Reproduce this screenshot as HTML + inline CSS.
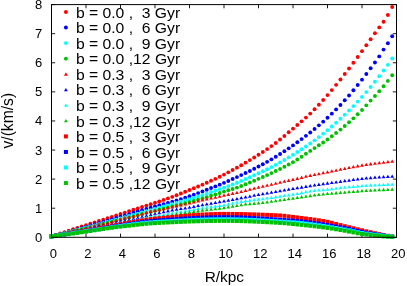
<!DOCTYPE html>
<html><head><meta charset="utf-8"><title>plot</title>
<style>html,body{margin:0;padding:0;background:#fff;overflow:hidden}svg{display:block;will-change:transform}text{font-family:"Liberation Sans",sans-serif;fill:#000}</style></head><body>
<svg width="407" height="286" viewBox="0 0 407 286">
<path d="M51.50 237.3V233.60000000000002M51.50 4.6V8.3M86.00 237.3V233.60000000000002M86.00 4.6V8.3M120.50 237.3V233.60000000000002M120.50 4.6V8.3M155.00 237.3V233.60000000000002M155.00 4.6V8.3M189.50 237.3V233.60000000000002M189.50 4.6V8.3M224.00 237.3V233.60000000000002M224.00 4.6V8.3M258.50 237.3V233.60000000000002M258.50 4.6V8.3M293.00 237.3V233.60000000000002M293.00 4.6V8.3M327.50 237.3V233.60000000000002M327.50 4.6V8.3M362.00 237.3V233.60000000000002M362.00 4.6V8.3M396.50 237.3V233.60000000000002M396.50 4.6V8.3M51.5 237.30H55.2M396.5 237.30H392.8M51.5 208.21H55.2M396.5 208.21H392.8M51.5 179.12H55.2M396.5 179.12H392.8M51.5 150.04H55.2M396.5 150.04H392.8M51.5 120.95H55.2M396.5 120.95H392.8M51.5 91.86H55.2M396.5 91.86H392.8M51.5 62.78H55.2M396.5 62.78H392.8M51.5 33.69H55.2M396.5 33.69H392.8M51.5 4.60H55.2M396.5 4.60H392.8" stroke="#000" stroke-width="0.9" fill="none"/>
<text x="53.35" y="257.6" font-size="13" text-anchor="middle">0</text>
<text x="87.85" y="257.6" font-size="13" text-anchor="middle">2</text>
<text x="122.35" y="257.6" font-size="13" text-anchor="middle">4</text>
<text x="156.85" y="257.6" font-size="13" text-anchor="middle">6</text>
<text x="191.35" y="257.6" font-size="13" text-anchor="middle">8</text>
<text x="225.85" y="257.6" font-size="13" text-anchor="middle">10</text>
<text x="260.35" y="257.6" font-size="13" text-anchor="middle">12</text>
<text x="294.85" y="257.6" font-size="13" text-anchor="middle">14</text>
<text x="329.35" y="257.6" font-size="13" text-anchor="middle">16</text>
<text x="363.85" y="257.6" font-size="13" text-anchor="middle">18</text>
<text x="398.35" y="257.6" font-size="13" text-anchor="middle">20</text>
<text x="42.2" y="241.80" font-size="13" text-anchor="end">0</text>
<text x="42.2" y="212.71" font-size="13" text-anchor="end">1</text>
<text x="42.2" y="183.62" font-size="13" text-anchor="end">2</text>
<text x="42.2" y="154.54" font-size="13" text-anchor="end">3</text>
<text x="42.2" y="125.45" font-size="13" text-anchor="end">4</text>
<text x="42.2" y="96.36" font-size="13" text-anchor="end">5</text>
<text x="42.2" y="67.28" font-size="13" text-anchor="end">6</text>
<text x="42.2" y="38.19" font-size="13" text-anchor="end">7</text>
<text x="42.2" y="9.10" font-size="13" text-anchor="end">8</text>
<text x="224.3" y="281.5" font-size="15.4" text-anchor="middle">R/kpc</text>
<text transform="translate(13.2,120.7) rotate(-90)" font-size="15.7" text-anchor="middle">v/(km/s)</text>
<text transform="translate(75.9,17.65) scale(1.03,1)" font-size="15.25" xml:space="preserve">b = 0.0 ,  3 Gyr</text>
<circle cx="65.90" cy="12.00" r="1.95" fill="#ff0000"/>
<text transform="translate(75.9,33.20) scale(1.03,1)" font-size="15.25" xml:space="preserve">b = 0.0 ,  6 Gyr</text>
<circle cx="65.90" cy="27.55" r="1.95" fill="#0000ff"/>
<text transform="translate(75.9,48.75) scale(1.03,1)" font-size="15.25" xml:space="preserve">b = 0.0 ,  9 Gyr</text>
<circle cx="65.90" cy="43.10" r="1.95" fill="#00ffff"/>
<text transform="translate(75.9,64.30) scale(1.03,1)" font-size="15.25" xml:space="preserve">b = 0.0 ,12 Gyr</text>
<circle cx="65.90" cy="58.65" r="1.95" fill="#00c000"/>
<text transform="translate(75.9,79.85) scale(1.03,1)" font-size="15.25" xml:space="preserve">b = 0.3 ,  3 Gyr</text>
<path d="M63.95 75.65L67.85 75.65L65.90 72.35Z" fill="#ff0000"/>
<text transform="translate(75.9,95.40) scale(1.03,1)" font-size="15.25" xml:space="preserve">b = 0.3 ,  6 Gyr</text>
<path d="M63.95 91.20L67.85 91.20L65.90 87.90Z" fill="#0000ff"/>
<text transform="translate(75.9,110.95) scale(1.03,1)" font-size="15.25" xml:space="preserve">b = 0.3 ,  9 Gyr</text>
<path d="M63.95 106.75L67.85 106.75L65.90 103.45Z" fill="#00ffff"/>
<text transform="translate(75.9,126.50) scale(1.03,1)" font-size="15.25" xml:space="preserve">b = 0.3 ,12 Gyr</text>
<path d="M63.95 122.30L67.85 122.30L65.90 119.00Z" fill="#00c000"/>
<text transform="translate(75.9,142.05) scale(1.03,1)" font-size="15.25" xml:space="preserve">b = 0.5 ,  3 Gyr</text>
<rect x="63.90" y="134.40" width="4" height="4" fill="#ff0000"/>
<text transform="translate(75.9,157.60) scale(1.03,1)" font-size="15.25" xml:space="preserve">b = 0.5 ,  6 Gyr</text>
<rect x="63.90" y="149.95" width="4" height="4" fill="#0000ff"/>
<text transform="translate(75.9,173.15) scale(1.03,1)" font-size="15.25" xml:space="preserve">b = 0.5 ,  9 Gyr</text>
<rect x="63.90" y="165.50" width="4" height="4" fill="#00ffff"/>
<text transform="translate(75.9,188.70) scale(1.03,1)" font-size="15.25" xml:space="preserve">b = 0.5 ,12 Gyr</text>
<rect x="63.90" y="181.05" width="4" height="4" fill="#00c000"/>
<circle cx="51.50" cy="236.43" r="1.95" fill="#ff0000"/><circle cx="55.81" cy="234.97" r="1.95" fill="#ff0000"/><circle cx="60.12" cy="233.53" r="1.95" fill="#ff0000"/><circle cx="64.44" cy="232.10" r="1.95" fill="#ff0000"/><circle cx="68.75" cy="230.68" r="1.95" fill="#ff0000"/><circle cx="73.06" cy="229.27" r="1.95" fill="#ff0000"/><circle cx="77.38" cy="227.86" r="1.95" fill="#ff0000"/><circle cx="81.69" cy="226.47" r="1.95" fill="#ff0000"/><circle cx="86.00" cy="225.08" r="1.95" fill="#ff0000"/><circle cx="90.31" cy="223.71" r="1.95" fill="#ff0000"/><circle cx="94.62" cy="222.35" r="1.95" fill="#ff0000"/><circle cx="98.94" cy="221.01" r="1.95" fill="#ff0000"/><circle cx="103.25" cy="219.66" r="1.95" fill="#ff0000"/><circle cx="107.56" cy="218.25" r="1.95" fill="#ff0000"/><circle cx="111.88" cy="216.83" r="1.95" fill="#ff0000"/><circle cx="116.19" cy="215.42" r="1.95" fill="#ff0000"/><circle cx="120.50" cy="214.01" r="1.95" fill="#ff0000"/><circle cx="124.81" cy="212.60" r="1.95" fill="#ff0000"/><circle cx="129.12" cy="211.19" r="1.95" fill="#ff0000"/><circle cx="133.44" cy="209.78" r="1.95" fill="#ff0000"/><circle cx="137.75" cy="208.38" r="1.95" fill="#ff0000"/><circle cx="142.06" cy="206.99" r="1.95" fill="#ff0000"/><circle cx="146.38" cy="205.60" r="1.95" fill="#ff0000"/><circle cx="150.69" cy="204.20" r="1.95" fill="#ff0000"/><circle cx="155.00" cy="202.77" r="1.95" fill="#ff0000"/><circle cx="159.31" cy="201.34" r="1.95" fill="#ff0000"/><circle cx="163.62" cy="199.89" r="1.95" fill="#ff0000"/><circle cx="167.94" cy="198.41" r="1.95" fill="#ff0000"/><circle cx="172.25" cy="196.87" r="1.95" fill="#ff0000"/><circle cx="176.56" cy="195.24" r="1.95" fill="#ff0000"/><circle cx="180.88" cy="193.54" r="1.95" fill="#ff0000"/><circle cx="185.19" cy="191.79" r="1.95" fill="#ff0000"/><circle cx="189.50" cy="190.03" r="1.95" fill="#ff0000"/><circle cx="193.81" cy="188.27" r="1.95" fill="#ff0000"/><circle cx="198.12" cy="186.48" r="1.95" fill="#ff0000"/><circle cx="202.44" cy="184.65" r="1.95" fill="#ff0000"/><circle cx="206.75" cy="182.76" r="1.95" fill="#ff0000"/><circle cx="211.06" cy="180.82" r="1.95" fill="#ff0000"/><circle cx="215.38" cy="178.83" r="1.95" fill="#ff0000"/><circle cx="219.69" cy="176.77" r="1.95" fill="#ff0000"/><circle cx="224.00" cy="174.62" r="1.95" fill="#ff0000"/><circle cx="228.31" cy="172.37" r="1.95" fill="#ff0000"/><circle cx="232.62" cy="170.04" r="1.95" fill="#ff0000"/><circle cx="236.94" cy="167.65" r="1.95" fill="#ff0000"/><circle cx="241.25" cy="165.19" r="1.95" fill="#ff0000"/><circle cx="245.56" cy="162.67" r="1.95" fill="#ff0000"/><circle cx="249.88" cy="160.09" r="1.95" fill="#ff0000"/><circle cx="254.19" cy="157.45" r="1.95" fill="#ff0000"/><circle cx="258.50" cy="154.75" r="1.95" fill="#ff0000"/><circle cx="262.81" cy="151.98" r="1.95" fill="#ff0000"/><circle cx="267.12" cy="149.10" r="1.95" fill="#ff0000"/><circle cx="271.44" cy="146.09" r="1.95" fill="#ff0000"/><circle cx="275.75" cy="142.94" r="1.95" fill="#ff0000"/><circle cx="280.06" cy="139.57" r="1.95" fill="#ff0000"/><circle cx="284.38" cy="136.00" r="1.95" fill="#ff0000"/><circle cx="288.69" cy="132.32" r="1.95" fill="#ff0000"/><circle cx="293.00" cy="128.63" r="1.95" fill="#ff0000"/><circle cx="297.31" cy="125.00" r="1.95" fill="#ff0000"/><circle cx="301.62" cy="121.36" r="1.95" fill="#ff0000"/><circle cx="305.94" cy="117.61" r="1.95" fill="#ff0000"/><circle cx="310.25" cy="113.62" r="1.95" fill="#ff0000"/><circle cx="314.56" cy="109.32" r="1.95" fill="#ff0000"/><circle cx="318.88" cy="104.76" r="1.95" fill="#ff0000"/><circle cx="323.19" cy="100.01" r="1.95" fill="#ff0000"/><circle cx="327.50" cy="95.12" r="1.95" fill="#ff0000"/><circle cx="331.81" cy="90.08" r="1.95" fill="#ff0000"/><circle cx="336.12" cy="84.84" r="1.95" fill="#ff0000"/><circle cx="340.44" cy="79.47" r="1.95" fill="#ff0000"/><circle cx="344.75" cy="74.00" r="1.95" fill="#ff0000"/><circle cx="349.06" cy="68.44" r="1.95" fill="#ff0000"/><circle cx="353.38" cy="62.74" r="1.95" fill="#ff0000"/><circle cx="357.69" cy="56.96" r="1.95" fill="#ff0000"/><circle cx="362.00" cy="51.14" r="1.95" fill="#ff0000"/><circle cx="366.31" cy="45.25" r="1.95" fill="#ff0000"/><circle cx="370.62" cy="39.30" r="1.95" fill="#ff0000"/><circle cx="374.94" cy="33.29" r="1.95" fill="#ff0000"/><circle cx="379.25" cy="27.38" r="1.95" fill="#ff0000"/><circle cx="383.56" cy="21.76" r="1.95" fill="#ff0000"/><circle cx="387.88" cy="14.96" r="1.95" fill="#ff0000"/><circle cx="392.19" cy="7.07" r="1.95" fill="#ff0000"/>
<circle cx="51.50" cy="236.43" r="1.95" fill="#0000ff"/><circle cx="55.81" cy="235.22" r="1.95" fill="#0000ff"/><circle cx="60.12" cy="234.00" r="1.95" fill="#0000ff"/><circle cx="64.44" cy="232.79" r="1.95" fill="#0000ff"/><circle cx="68.75" cy="231.58" r="1.95" fill="#0000ff"/><circle cx="73.06" cy="230.37" r="1.95" fill="#0000ff"/><circle cx="77.38" cy="229.16" r="1.95" fill="#0000ff"/><circle cx="81.69" cy="227.94" r="1.95" fill="#0000ff"/><circle cx="86.00" cy="226.73" r="1.95" fill="#0000ff"/><circle cx="90.31" cy="225.52" r="1.95" fill="#0000ff"/><circle cx="94.62" cy="224.31" r="1.95" fill="#0000ff"/><circle cx="98.94" cy="223.10" r="1.95" fill="#0000ff"/><circle cx="103.25" cy="221.88" r="1.95" fill="#0000ff"/><circle cx="107.56" cy="220.60" r="1.95" fill="#0000ff"/><circle cx="111.88" cy="219.30" r="1.95" fill="#0000ff"/><circle cx="116.19" cy="218.00" r="1.95" fill="#0000ff"/><circle cx="120.50" cy="216.70" r="1.95" fill="#0000ff"/><circle cx="124.81" cy="215.40" r="1.95" fill="#0000ff"/><circle cx="129.12" cy="214.10" r="1.95" fill="#0000ff"/><circle cx="133.44" cy="212.80" r="1.95" fill="#0000ff"/><circle cx="137.75" cy="211.52" r="1.95" fill="#0000ff"/><circle cx="142.06" cy="210.24" r="1.95" fill="#0000ff"/><circle cx="146.38" cy="208.97" r="1.95" fill="#0000ff"/><circle cx="150.69" cy="207.71" r="1.95" fill="#0000ff"/><circle cx="155.00" cy="206.47" r="1.95" fill="#0000ff"/><circle cx="159.31" cy="205.26" r="1.95" fill="#0000ff"/><circle cx="163.62" cy="204.08" r="1.95" fill="#0000ff"/><circle cx="167.94" cy="202.90" r="1.95" fill="#0000ff"/><circle cx="172.25" cy="201.67" r="1.95" fill="#0000ff"/><circle cx="176.56" cy="200.39" r="1.95" fill="#0000ff"/><circle cx="180.88" cy="199.08" r="1.95" fill="#0000ff"/><circle cx="185.19" cy="197.72" r="1.95" fill="#0000ff"/><circle cx="189.50" cy="196.29" r="1.95" fill="#0000ff"/><circle cx="193.81" cy="194.75" r="1.95" fill="#0000ff"/><circle cx="198.12" cy="193.12" r="1.95" fill="#0000ff"/><circle cx="202.44" cy="191.43" r="1.95" fill="#0000ff"/><circle cx="206.75" cy="189.74" r="1.95" fill="#0000ff"/><circle cx="211.06" cy="188.07" r="1.95" fill="#0000ff"/><circle cx="215.38" cy="186.38" r="1.95" fill="#0000ff"/><circle cx="219.69" cy="184.65" r="1.95" fill="#0000ff"/><circle cx="224.00" cy="182.85" r="1.95" fill="#0000ff"/><circle cx="228.31" cy="180.98" r="1.95" fill="#0000ff"/><circle cx="232.62" cy="179.06" r="1.95" fill="#0000ff"/><circle cx="236.94" cy="177.11" r="1.95" fill="#0000ff"/><circle cx="241.25" cy="175.10" r="1.95" fill="#0000ff"/><circle cx="245.56" cy="173.05" r="1.95" fill="#0000ff"/><circle cx="249.88" cy="170.94" r="1.95" fill="#0000ff"/><circle cx="254.19" cy="168.78" r="1.95" fill="#0000ff"/><circle cx="258.50" cy="166.56" r="1.95" fill="#0000ff"/><circle cx="262.81" cy="164.26" r="1.95" fill="#0000ff"/><circle cx="267.12" cy="161.85" r="1.95" fill="#0000ff"/><circle cx="271.44" cy="159.35" r="1.95" fill="#0000ff"/><circle cx="275.75" cy="156.76" r="1.95" fill="#0000ff"/><circle cx="280.06" cy="154.07" r="1.95" fill="#0000ff"/><circle cx="284.38" cy="151.27" r="1.95" fill="#0000ff"/><circle cx="288.69" cy="148.37" r="1.95" fill="#0000ff"/><circle cx="293.00" cy="145.38" r="1.95" fill="#0000ff"/><circle cx="297.31" cy="142.30" r="1.95" fill="#0000ff"/><circle cx="301.62" cy="139.12" r="1.95" fill="#0000ff"/><circle cx="305.94" cy="135.83" r="1.95" fill="#0000ff"/><circle cx="310.25" cy="132.44" r="1.95" fill="#0000ff"/><circle cx="314.56" cy="128.96" r="1.95" fill="#0000ff"/><circle cx="318.88" cy="125.37" r="1.95" fill="#0000ff"/><circle cx="323.19" cy="121.64" r="1.95" fill="#0000ff"/><circle cx="327.50" cy="117.75" r="1.95" fill="#0000ff"/><circle cx="331.81" cy="113.67" r="1.95" fill="#0000ff"/><circle cx="336.12" cy="109.39" r="1.95" fill="#0000ff"/><circle cx="340.44" cy="104.94" r="1.95" fill="#0000ff"/><circle cx="344.75" cy="100.30" r="1.95" fill="#0000ff"/><circle cx="349.06" cy="95.43" r="1.95" fill="#0000ff"/><circle cx="353.38" cy="90.32" r="1.95" fill="#0000ff"/><circle cx="357.69" cy="85.04" r="1.95" fill="#0000ff"/><circle cx="362.00" cy="79.65" r="1.95" fill="#0000ff"/><circle cx="366.31" cy="74.07" r="1.95" fill="#0000ff"/><circle cx="370.62" cy="68.30" r="1.95" fill="#0000ff"/><circle cx="374.94" cy="62.48" r="1.95" fill="#0000ff"/><circle cx="379.25" cy="56.38" r="1.95" fill="#0000ff"/><circle cx="383.56" cy="49.60" r="1.95" fill="#0000ff"/><circle cx="387.88" cy="43.29" r="1.95" fill="#0000ff"/><circle cx="392.19" cy="36.31" r="1.95" fill="#0000ff"/>
<circle cx="51.50" cy="236.43" r="1.95" fill="#00ffff"/><circle cx="55.81" cy="235.32" r="1.95" fill="#00ffff"/><circle cx="60.12" cy="234.21" r="1.95" fill="#00ffff"/><circle cx="64.44" cy="233.11" r="1.95" fill="#00ffff"/><circle cx="68.75" cy="232.00" r="1.95" fill="#00ffff"/><circle cx="73.06" cy="230.89" r="1.95" fill="#00ffff"/><circle cx="77.38" cy="229.78" r="1.95" fill="#00ffff"/><circle cx="81.69" cy="228.68" r="1.95" fill="#00ffff"/><circle cx="86.00" cy="227.57" r="1.95" fill="#00ffff"/><circle cx="90.31" cy="226.46" r="1.95" fill="#00ffff"/><circle cx="94.62" cy="225.35" r="1.95" fill="#00ffff"/><circle cx="98.94" cy="224.24" r="1.95" fill="#00ffff"/><circle cx="103.25" cy="223.13" r="1.95" fill="#00ffff"/><circle cx="107.56" cy="221.95" r="1.95" fill="#00ffff"/><circle cx="111.88" cy="220.77" r="1.95" fill="#00ffff"/><circle cx="116.19" cy="219.59" r="1.95" fill="#00ffff"/><circle cx="120.50" cy="218.41" r="1.95" fill="#00ffff"/><circle cx="124.81" cy="217.23" r="1.95" fill="#00ffff"/><circle cx="129.12" cy="216.05" r="1.95" fill="#00ffff"/><circle cx="133.44" cy="214.87" r="1.95" fill="#00ffff"/><circle cx="137.75" cy="213.69" r="1.95" fill="#00ffff"/><circle cx="142.06" cy="212.51" r="1.95" fill="#00ffff"/><circle cx="146.38" cy="211.32" r="1.95" fill="#00ffff"/><circle cx="150.69" cy="210.13" r="1.95" fill="#00ffff"/><circle cx="155.00" cy="208.94" r="1.95" fill="#00ffff"/><circle cx="159.31" cy="207.75" r="1.95" fill="#00ffff"/><circle cx="163.62" cy="206.55" r="1.95" fill="#00ffff"/><circle cx="167.94" cy="205.35" r="1.95" fill="#00ffff"/><circle cx="172.25" cy="204.14" r="1.95" fill="#00ffff"/><circle cx="176.56" cy="202.94" r="1.95" fill="#00ffff"/><circle cx="180.88" cy="201.74" r="1.95" fill="#00ffff"/><circle cx="185.19" cy="200.52" r="1.95" fill="#00ffff"/><circle cx="189.50" cy="199.25" r="1.95" fill="#00ffff"/><circle cx="193.81" cy="197.93" r="1.95" fill="#00ffff"/><circle cx="198.12" cy="196.56" r="1.95" fill="#00ffff"/><circle cx="202.44" cy="195.14" r="1.95" fill="#00ffff"/><circle cx="206.75" cy="193.67" r="1.95" fill="#00ffff"/><circle cx="211.06" cy="192.07" r="1.95" fill="#00ffff"/><circle cx="215.38" cy="190.47" r="1.95" fill="#00ffff"/><circle cx="219.69" cy="189.08" r="1.95" fill="#00ffff"/><circle cx="224.00" cy="187.68" r="1.95" fill="#00ffff"/><circle cx="228.31" cy="186.10" r="1.95" fill="#00ffff"/><circle cx="232.62" cy="184.44" r="1.95" fill="#00ffff"/><circle cx="236.94" cy="182.71" r="1.95" fill="#00ffff"/><circle cx="241.25" cy="180.92" r="1.95" fill="#00ffff"/><circle cx="245.56" cy="179.07" r="1.95" fill="#00ffff"/><circle cx="249.88" cy="177.18" r="1.95" fill="#00ffff"/><circle cx="254.19" cy="175.26" r="1.95" fill="#00ffff"/><circle cx="258.50" cy="173.31" r="1.95" fill="#00ffff"/><circle cx="262.81" cy="171.32" r="1.95" fill="#00ffff"/><circle cx="267.12" cy="169.26" r="1.95" fill="#00ffff"/><circle cx="271.44" cy="167.12" r="1.95" fill="#00ffff"/><circle cx="275.75" cy="164.87" r="1.95" fill="#00ffff"/><circle cx="280.06" cy="162.50" r="1.95" fill="#00ffff"/><circle cx="284.38" cy="159.99" r="1.95" fill="#00ffff"/><circle cx="288.69" cy="157.40" r="1.95" fill="#00ffff"/><circle cx="293.00" cy="154.75" r="1.95" fill="#00ffff"/><circle cx="297.31" cy="152.06" r="1.95" fill="#00ffff"/><circle cx="301.62" cy="149.32" r="1.95" fill="#00ffff"/><circle cx="305.94" cy="146.47" r="1.95" fill="#00ffff"/><circle cx="310.25" cy="143.49" r="1.95" fill="#00ffff"/><circle cx="314.56" cy="140.36" r="1.95" fill="#00ffff"/><circle cx="318.88" cy="137.08" r="1.95" fill="#00ffff"/><circle cx="323.19" cy="133.67" r="1.95" fill="#00ffff"/><circle cx="327.50" cy="130.14" r="1.95" fill="#00ffff"/><circle cx="331.81" cy="126.50" r="1.95" fill="#00ffff"/><circle cx="336.12" cy="122.71" r="1.95" fill="#00ffff"/><circle cx="340.44" cy="118.79" r="1.95" fill="#00ffff"/><circle cx="344.75" cy="114.73" r="1.95" fill="#00ffff"/><circle cx="349.06" cy="110.51" r="1.95" fill="#00ffff"/><circle cx="353.38" cy="106.12" r="1.95" fill="#00ffff"/><circle cx="357.69" cy="101.59" r="1.95" fill="#00ffff"/><circle cx="362.00" cy="96.92" r="1.95" fill="#00ffff"/><circle cx="366.31" cy="92.08" r="1.95" fill="#00ffff"/><circle cx="370.62" cy="87.00" r="1.95" fill="#00ffff"/><circle cx="374.94" cy="81.71" r="1.95" fill="#00ffff"/><circle cx="379.25" cy="76.21" r="1.95" fill="#00ffff"/><circle cx="383.56" cy="70.51" r="1.95" fill="#00ffff"/><circle cx="387.88" cy="64.84" r="1.95" fill="#00ffff"/><circle cx="392.19" cy="58.50" r="1.95" fill="#00ffff"/>
<circle cx="51.50" cy="236.43" r="1.95" fill="#00c000"/><circle cx="55.81" cy="235.39" r="1.95" fill="#00c000"/><circle cx="60.12" cy="234.35" r="1.95" fill="#00c000"/><circle cx="64.44" cy="233.32" r="1.95" fill="#00c000"/><circle cx="68.75" cy="232.28" r="1.95" fill="#00c000"/><circle cx="73.06" cy="231.25" r="1.95" fill="#00c000"/><circle cx="77.38" cy="230.22" r="1.95" fill="#00c000"/><circle cx="81.69" cy="229.18" r="1.95" fill="#00c000"/><circle cx="86.00" cy="228.15" r="1.95" fill="#00c000"/><circle cx="90.31" cy="227.12" r="1.95" fill="#00c000"/><circle cx="94.62" cy="226.09" r="1.95" fill="#00c000"/><circle cx="98.94" cy="225.06" r="1.95" fill="#00c000"/><circle cx="103.25" cy="224.04" r="1.95" fill="#00c000"/><circle cx="107.56" cy="222.94" r="1.95" fill="#00c000"/><circle cx="111.88" cy="221.84" r="1.95" fill="#00c000"/><circle cx="116.19" cy="220.74" r="1.95" fill="#00c000"/><circle cx="120.50" cy="219.65" r="1.95" fill="#00c000"/><circle cx="124.81" cy="218.55" r="1.95" fill="#00c000"/><circle cx="129.12" cy="217.46" r="1.95" fill="#00c000"/><circle cx="133.44" cy="216.36" r="1.95" fill="#00c000"/><circle cx="137.75" cy="215.27" r="1.95" fill="#00c000"/><circle cx="142.06" cy="214.17" r="1.95" fill="#00c000"/><circle cx="146.38" cy="213.08" r="1.95" fill="#00c000"/><circle cx="150.69" cy="211.98" r="1.95" fill="#00c000"/><circle cx="155.00" cy="210.89" r="1.95" fill="#00c000"/><circle cx="159.31" cy="209.80" r="1.95" fill="#00c000"/><circle cx="163.62" cy="208.72" r="1.95" fill="#00c000"/><circle cx="167.94" cy="207.65" r="1.95" fill="#00c000"/><circle cx="172.25" cy="206.57" r="1.95" fill="#00c000"/><circle cx="176.56" cy="205.48" r="1.95" fill="#00c000"/><circle cx="180.88" cy="204.38" r="1.95" fill="#00c000"/><circle cx="185.19" cy="203.26" r="1.95" fill="#00c000"/><circle cx="189.50" cy="202.10" r="1.95" fill="#00c000"/><circle cx="193.81" cy="200.92" r="1.95" fill="#00c000"/><circle cx="198.12" cy="199.70" r="1.95" fill="#00c000"/><circle cx="202.44" cy="198.45" r="1.95" fill="#00c000"/><circle cx="206.75" cy="197.16" r="1.95" fill="#00c000"/><circle cx="211.06" cy="195.80" r="1.95" fill="#00c000"/><circle cx="215.38" cy="194.40" r="1.95" fill="#00c000"/><circle cx="219.69" cy="192.99" r="1.95" fill="#00c000"/><circle cx="224.00" cy="191.60" r="1.95" fill="#00c000"/><circle cx="228.31" cy="190.29" r="1.95" fill="#00c000"/><circle cx="232.62" cy="188.99" r="1.95" fill="#00c000"/><circle cx="236.94" cy="187.59" r="1.95" fill="#00c000"/><circle cx="241.25" cy="186.02" r="1.95" fill="#00c000"/><circle cx="245.56" cy="184.32" r="1.95" fill="#00c000"/><circle cx="249.88" cy="182.54" r="1.95" fill="#00c000"/><circle cx="254.19" cy="180.71" r="1.95" fill="#00c000"/><circle cx="258.50" cy="178.86" r="1.95" fill="#00c000"/><circle cx="262.81" cy="177.00" r="1.95" fill="#00c000"/><circle cx="267.12" cy="175.08" r="1.95" fill="#00c000"/><circle cx="271.44" cy="173.11" r="1.95" fill="#00c000"/><circle cx="275.75" cy="171.07" r="1.95" fill="#00c000"/><circle cx="280.06" cy="168.97" r="1.95" fill="#00c000"/><circle cx="284.38" cy="166.82" r="1.95" fill="#00c000"/><circle cx="288.69" cy="164.57" r="1.95" fill="#00c000"/><circle cx="293.00" cy="162.17" r="1.95" fill="#00c000"/><circle cx="297.31" cy="159.54" r="1.95" fill="#00c000"/><circle cx="301.62" cy="156.72" r="1.95" fill="#00c000"/><circle cx="305.94" cy="153.80" r="1.95" fill="#00c000"/><circle cx="310.25" cy="150.91" r="1.95" fill="#00c000"/><circle cx="314.56" cy="148.10" r="1.95" fill="#00c000"/><circle cx="318.88" cy="145.30" r="1.95" fill="#00c000"/><circle cx="323.19" cy="142.45" r="1.95" fill="#00c000"/><circle cx="327.50" cy="139.45" r="1.95" fill="#00c000"/><circle cx="331.81" cy="136.30" r="1.95" fill="#00c000"/><circle cx="336.12" cy="133.03" r="1.95" fill="#00c000"/><circle cx="340.44" cy="129.61" r="1.95" fill="#00c000"/><circle cx="344.75" cy="126.04" r="1.95" fill="#00c000"/><circle cx="349.06" cy="122.28" r="1.95" fill="#00c000"/><circle cx="353.38" cy="118.33" r="1.95" fill="#00c000"/><circle cx="357.69" cy="114.21" r="1.95" fill="#00c000"/><circle cx="362.00" cy="109.93" r="1.95" fill="#00c000"/><circle cx="366.31" cy="105.35" r="1.95" fill="#00c000"/><circle cx="370.62" cy="100.62" r="1.95" fill="#00c000"/><circle cx="374.94" cy="96.01" r="1.95" fill="#00c000"/><circle cx="379.25" cy="91.31" r="1.95" fill="#00c000"/><circle cx="383.56" cy="86.31" r="1.95" fill="#00c000"/><circle cx="387.88" cy="80.90" r="1.95" fill="#00c000"/><circle cx="392.19" cy="75.31" r="1.95" fill="#00c000"/>
<path d="M49.55 237.88L53.45 237.88L51.50 234.58Z" fill="#ff0000"/><path d="M53.86 236.83L57.76 236.83L55.81 233.53Z" fill="#ff0000"/><path d="M58.17 235.79L62.08 235.79L60.12 232.49Z" fill="#ff0000"/><path d="M62.49 234.74L66.39 234.74L64.44 231.44Z" fill="#ff0000"/><path d="M66.80 233.70L70.70 233.70L68.75 230.40Z" fill="#ff0000"/><path d="M71.11 232.66L75.01 232.66L73.06 229.36Z" fill="#ff0000"/><path d="M75.42 231.61L79.33 231.61L77.38 228.31Z" fill="#ff0000"/><path d="M79.74 230.57L83.64 230.57L81.69 227.27Z" fill="#ff0000"/><path d="M84.05 229.53L87.95 229.53L86.00 226.23Z" fill="#ff0000"/><path d="M88.36 228.49L92.26 228.49L90.31 225.19Z" fill="#ff0000"/><path d="M92.67 227.45L96.58 227.45L94.62 224.15Z" fill="#ff0000"/><path d="M96.99 226.41L100.89 226.41L98.94 223.11Z" fill="#ff0000"/><path d="M101.30 225.37L105.20 225.37L103.25 222.07Z" fill="#ff0000"/><path d="M105.61 224.25L109.51 224.25L107.56 220.95Z" fill="#ff0000"/><path d="M109.92 223.11L113.83 223.11L111.88 219.81Z" fill="#ff0000"/><path d="M114.24 221.97L118.14 221.97L116.19 218.67Z" fill="#ff0000"/><path d="M118.55 220.82L122.45 220.82L120.50 217.52Z" fill="#ff0000"/><path d="M122.86 219.67L126.76 219.67L124.81 216.37Z" fill="#ff0000"/><path d="M127.17 218.53L131.07 218.53L129.12 215.23Z" fill="#ff0000"/><path d="M131.49 217.40L135.39 217.40L133.44 214.10Z" fill="#ff0000"/><path d="M135.80 216.28L139.70 216.28L137.75 212.98Z" fill="#ff0000"/><path d="M140.11 215.19L144.01 215.19L142.06 211.89Z" fill="#ff0000"/><path d="M144.43 214.12L148.32 214.12L146.38 210.82Z" fill="#ff0000"/><path d="M148.74 213.08L152.64 213.08L150.69 209.78Z" fill="#ff0000"/><path d="M153.05 212.08L156.95 212.08L155.00 208.78Z" fill="#ff0000"/><path d="M157.36 211.13L161.26 211.13L159.31 207.83Z" fill="#ff0000"/><path d="M161.68 210.24L165.57 210.24L163.62 206.94Z" fill="#ff0000"/><path d="M165.99 209.35L169.89 209.35L167.94 206.05Z" fill="#ff0000"/><path d="M170.30 208.44L174.20 208.44L172.25 205.14Z" fill="#ff0000"/><path d="M174.61 207.49L178.51 207.49L176.56 204.19Z" fill="#ff0000"/><path d="M178.93 206.52L182.82 206.52L180.88 203.22Z" fill="#ff0000"/><path d="M183.24 205.53L187.14 205.53L185.19 202.23Z" fill="#ff0000"/><path d="M187.55 204.54L191.45 204.54L189.50 201.24Z" fill="#ff0000"/><path d="M191.86 203.54L195.76 203.54L193.81 200.24Z" fill="#ff0000"/><path d="M196.18 202.52L200.07 202.52L198.12 199.22Z" fill="#ff0000"/><path d="M200.49 201.51L204.39 201.51L202.44 198.21Z" fill="#ff0000"/><path d="M204.80 200.53L208.70 200.53L206.75 197.23Z" fill="#ff0000"/><path d="M209.11 199.59L213.01 199.59L211.06 196.29Z" fill="#ff0000"/><path d="M213.43 198.68L217.32 198.68L215.38 195.38Z" fill="#ff0000"/><path d="M217.74 197.77L221.64 197.77L219.69 194.47Z" fill="#ff0000"/><path d="M222.05 196.83L225.95 196.83L224.00 193.53Z" fill="#ff0000"/><path d="M226.36 195.88L230.26 195.88L228.31 192.58Z" fill="#ff0000"/><path d="M230.68 194.91L234.57 194.91L232.62 191.61Z" fill="#ff0000"/><path d="M234.99 193.93L238.89 193.93L236.94 190.63Z" fill="#ff0000"/><path d="M239.30 192.94L243.20 192.94L241.25 189.64Z" fill="#ff0000"/><path d="M243.61 191.92L247.51 191.92L245.56 188.62Z" fill="#ff0000"/><path d="M247.93 190.86L251.82 190.86L249.88 187.56Z" fill="#ff0000"/><path d="M252.24 189.78L256.14 189.78L254.19 186.48Z" fill="#ff0000"/><path d="M256.55 188.72L260.45 188.72L258.50 185.42Z" fill="#ff0000"/><path d="M260.86 187.69L264.76 187.69L262.81 184.39Z" fill="#ff0000"/><path d="M265.18 186.68L269.07 186.68L267.12 183.38Z" fill="#ff0000"/><path d="M269.49 185.69L273.39 185.69L271.44 182.39Z" fill="#ff0000"/><path d="M273.80 184.71L277.70 184.71L275.75 181.41Z" fill="#ff0000"/><path d="M278.11 183.75L282.01 183.75L280.06 180.45Z" fill="#ff0000"/><path d="M282.43 182.81L286.32 182.81L284.38 179.51Z" fill="#ff0000"/><path d="M286.74 181.88L290.64 181.88L288.69 178.58Z" fill="#ff0000"/><path d="M291.05 180.92L294.95 180.92L293.00 177.62Z" fill="#ff0000"/><path d="M295.36 179.92L299.26 179.92L297.31 176.62Z" fill="#ff0000"/><path d="M299.68 178.89L303.57 178.89L301.62 175.59Z" fill="#ff0000"/><path d="M303.99 177.87L307.89 177.87L305.94 174.57Z" fill="#ff0000"/><path d="M308.30 176.91L312.20 176.91L310.25 173.61Z" fill="#ff0000"/><path d="M312.61 176.02L316.51 176.02L314.56 172.72Z" fill="#ff0000"/><path d="M316.93 175.18L320.82 175.18L318.88 171.88Z" fill="#ff0000"/><path d="M321.24 174.35L325.14 174.35L323.19 171.05Z" fill="#ff0000"/><path d="M325.55 173.51L329.45 173.51L327.50 170.21Z" fill="#ff0000"/><path d="M329.86 172.62L333.76 172.62L331.81 169.32Z" fill="#ff0000"/><path d="M334.18 171.72L338.07 171.72L336.12 168.42Z" fill="#ff0000"/><path d="M338.49 170.83L342.39 170.83L340.44 167.53Z" fill="#ff0000"/><path d="M342.80 169.96L346.70 169.96L344.75 166.66Z" fill="#ff0000"/><path d="M347.11 169.09L351.01 169.09L349.06 165.79Z" fill="#ff0000"/><path d="M351.43 168.23L355.32 168.23L353.38 164.93Z" fill="#ff0000"/><path d="M355.74 167.41L359.64 167.41L357.69 164.11Z" fill="#ff0000"/><path d="M360.05 166.67L363.95 166.67L362.00 163.37Z" fill="#ff0000"/><path d="M364.36 166.01L368.26 166.01L366.31 162.71Z" fill="#ff0000"/><path d="M368.68 165.40L372.57 165.40L370.62 162.10Z" fill="#ff0000"/><path d="M372.99 164.83L376.89 164.83L374.94 161.53Z" fill="#ff0000"/><path d="M377.30 164.29L381.20 164.29L379.25 160.99Z" fill="#ff0000"/><path d="M381.61 163.77L385.51 163.77L383.56 160.47Z" fill="#ff0000"/><path d="M385.93 163.28L389.82 163.28L387.88 159.98Z" fill="#ff0000"/><path d="M390.24 162.83L394.14 162.83L392.19 159.53Z" fill="#ff0000"/>
<path d="M49.55 237.88L53.45 237.88L51.50 234.58Z" fill="#0000ff"/><path d="M53.86 236.96L57.76 236.96L55.81 233.66Z" fill="#0000ff"/><path d="M58.17 236.05L62.08 236.05L60.12 232.75Z" fill="#0000ff"/><path d="M62.49 235.14L66.39 235.14L64.44 231.84Z" fill="#0000ff"/><path d="M66.80 234.23L70.70 234.23L68.75 230.93Z" fill="#0000ff"/><path d="M71.11 233.31L75.01 233.31L73.06 230.01Z" fill="#0000ff"/><path d="M75.42 232.41L79.33 232.41L77.38 229.11Z" fill="#0000ff"/><path d="M79.74 231.50L83.64 231.50L81.69 228.20Z" fill="#0000ff"/><path d="M84.05 230.59L87.95 230.59L86.00 227.29Z" fill="#0000ff"/><path d="M88.36 229.68L92.26 229.68L90.31 226.38Z" fill="#0000ff"/><path d="M92.67 228.78L96.58 228.78L94.62 225.48Z" fill="#0000ff"/><path d="M96.99 227.87L100.89 227.87L98.94 224.57Z" fill="#0000ff"/><path d="M101.30 226.97L105.20 226.97L103.25 223.67Z" fill="#0000ff"/><path d="M105.61 225.99L109.51 225.99L107.56 222.69Z" fill="#0000ff"/><path d="M109.92 225.02L113.83 225.02L111.88 221.72Z" fill="#0000ff"/><path d="M114.24 224.05L118.14 224.05L116.19 220.75Z" fill="#0000ff"/><path d="M118.55 223.07L122.45 223.07L120.50 219.77Z" fill="#0000ff"/><path d="M122.86 222.10L126.76 222.10L124.81 218.80Z" fill="#0000ff"/><path d="M127.17 221.13L131.07 221.13L129.12 217.83Z" fill="#0000ff"/><path d="M131.49 220.16L135.39 220.16L133.44 216.86Z" fill="#0000ff"/><path d="M135.80 219.19L139.70 219.19L137.75 215.89Z" fill="#0000ff"/><path d="M140.11 218.22L144.01 218.22L142.06 214.92Z" fill="#0000ff"/><path d="M144.43 217.26L148.32 217.26L146.38 213.96Z" fill="#0000ff"/><path d="M148.74 216.30L152.64 216.30L150.69 213.00Z" fill="#0000ff"/><path d="M153.05 215.33L156.95 215.33L155.00 212.03Z" fill="#0000ff"/><path d="M157.36 214.35L161.26 214.35L159.31 211.05Z" fill="#0000ff"/><path d="M161.68 213.35L165.57 213.35L163.62 210.05Z" fill="#0000ff"/><path d="M165.99 212.39L169.89 212.39L167.94 209.09Z" fill="#0000ff"/><path d="M170.30 211.52L174.20 211.52L172.25 208.22Z" fill="#0000ff"/><path d="M174.61 210.78L178.51 210.78L176.56 207.48Z" fill="#0000ff"/><path d="M178.93 210.10L182.82 210.10L180.88 206.80Z" fill="#0000ff"/><path d="M183.24 209.44L187.14 209.44L185.19 206.14Z" fill="#0000ff"/><path d="M187.55 208.73L191.45 208.73L189.50 205.43Z" fill="#0000ff"/><path d="M191.86 207.94L195.76 207.94L193.81 204.64Z" fill="#0000ff"/><path d="M196.18 207.09L200.07 207.09L198.12 203.79Z" fill="#0000ff"/><path d="M200.49 206.25L204.39 206.25L202.44 202.95Z" fill="#0000ff"/><path d="M204.80 205.44L208.70 205.44L206.75 202.14Z" fill="#0000ff"/><path d="M209.11 204.71L213.01 204.71L211.06 201.41Z" fill="#0000ff"/><path d="M213.43 204.02L217.32 204.02L215.38 200.72Z" fill="#0000ff"/><path d="M217.74 203.32L221.64 203.32L219.69 200.02Z" fill="#0000ff"/><path d="M222.05 202.59L225.95 202.59L224.00 199.29Z" fill="#0000ff"/><path d="M226.36 201.82L230.26 201.82L228.31 198.52Z" fill="#0000ff"/><path d="M230.68 201.01L234.57 201.01L232.62 197.71Z" fill="#0000ff"/><path d="M234.99 200.19L238.89 200.19L236.94 196.89Z" fill="#0000ff"/><path d="M239.30 199.35L243.20 199.35L241.25 196.05Z" fill="#0000ff"/><path d="M243.61 198.52L247.51 198.52L245.56 195.22Z" fill="#0000ff"/><path d="M247.93 197.68L251.82 197.68L249.88 194.38Z" fill="#0000ff"/><path d="M252.24 196.83L256.14 196.83L254.19 193.53Z" fill="#0000ff"/><path d="M256.55 196.02L260.45 196.02L258.50 192.72Z" fill="#0000ff"/><path d="M260.86 195.27L264.76 195.27L262.81 191.97Z" fill="#0000ff"/><path d="M265.18 194.55L269.07 194.55L267.12 191.25Z" fill="#0000ff"/><path d="M269.49 193.84L273.39 193.84L271.44 190.54Z" fill="#0000ff"/><path d="M273.80 193.11L277.70 193.11L275.75 189.81Z" fill="#0000ff"/><path d="M278.11 192.37L282.01 192.37L280.06 189.07Z" fill="#0000ff"/><path d="M282.43 191.61L286.32 191.61L284.38 188.31Z" fill="#0000ff"/><path d="M286.74 190.86L290.64 190.86L288.69 187.56Z" fill="#0000ff"/><path d="M291.05 190.12L294.95 190.12L293.00 186.82Z" fill="#0000ff"/><path d="M295.36 189.37L299.26 189.37L297.31 186.07Z" fill="#0000ff"/><path d="M299.68 188.63L303.57 188.63L301.62 185.33Z" fill="#0000ff"/><path d="M303.99 187.91L307.89 187.91L305.94 184.61Z" fill="#0000ff"/><path d="M308.30 187.21L312.20 187.21L310.25 183.91Z" fill="#0000ff"/><path d="M312.61 186.54L316.51 186.54L314.56 183.24Z" fill="#0000ff"/><path d="M316.93 185.89L320.82 185.89L318.88 182.59Z" fill="#0000ff"/><path d="M321.24 185.26L325.14 185.26L323.19 181.96Z" fill="#0000ff"/><path d="M325.55 184.65L329.45 184.65L327.50 181.35Z" fill="#0000ff"/><path d="M329.86 184.05L333.76 184.05L331.81 180.75Z" fill="#0000ff"/><path d="M334.18 183.47L338.07 183.47L336.12 180.17Z" fill="#0000ff"/><path d="M338.49 182.90L342.39 182.90L340.44 179.60Z" fill="#0000ff"/><path d="M342.80 182.32L346.70 182.32L344.75 179.02Z" fill="#0000ff"/><path d="M347.11 181.71L351.01 181.71L349.06 178.41Z" fill="#0000ff"/><path d="M351.43 181.07L355.32 181.07L353.38 177.77Z" fill="#0000ff"/><path d="M355.74 180.48L359.64 180.48L357.69 177.18Z" fill="#0000ff"/><path d="M360.05 179.99L363.95 179.99L362.00 176.69Z" fill="#0000ff"/><path d="M364.36 179.58L368.26 179.58L366.31 176.28Z" fill="#0000ff"/><path d="M368.68 179.19L372.57 179.19L370.62 175.89Z" fill="#0000ff"/><path d="M372.99 178.83L376.89 178.83L374.94 175.53Z" fill="#0000ff"/><path d="M377.30 178.50L381.20 178.50L379.25 175.20Z" fill="#0000ff"/><path d="M381.61 178.22L385.51 178.22L383.56 174.92Z" fill="#0000ff"/><path d="M385.93 177.98L389.82 177.98L387.88 174.68Z" fill="#0000ff"/><path d="M390.24 177.81L394.14 177.81L392.19 174.51Z" fill="#0000ff"/>
<path d="M49.55 237.88L53.45 237.88L51.50 234.58Z" fill="#00ffff"/><path d="M53.86 237.06L57.76 237.06L55.81 233.76Z" fill="#00ffff"/><path d="M58.17 236.24L62.08 236.24L60.12 232.94Z" fill="#00ffff"/><path d="M62.49 235.43L66.39 235.43L64.44 232.13Z" fill="#00ffff"/><path d="M66.80 234.61L70.70 234.61L68.75 231.31Z" fill="#00ffff"/><path d="M71.11 233.80L75.01 233.80L73.06 230.50Z" fill="#00ffff"/><path d="M75.42 232.99L79.33 232.99L77.38 229.69Z" fill="#00ffff"/><path d="M79.74 232.18L83.64 232.18L81.69 228.88Z" fill="#00ffff"/><path d="M84.05 231.36L87.95 231.36L86.00 228.06Z" fill="#00ffff"/><path d="M88.36 230.56L92.26 230.56L90.31 227.26Z" fill="#00ffff"/><path d="M92.67 229.75L96.58 229.75L94.62 226.45Z" fill="#00ffff"/><path d="M96.99 228.94L100.89 228.94L98.94 225.64Z" fill="#00ffff"/><path d="M101.30 228.13L105.20 228.13L103.25 224.83Z" fill="#00ffff"/><path d="M105.61 227.25L109.51 227.25L107.56 223.95Z" fill="#00ffff"/><path d="M109.92 226.36L113.83 226.36L111.88 223.06Z" fill="#00ffff"/><path d="M114.24 225.47L118.14 225.47L116.19 222.17Z" fill="#00ffff"/><path d="M118.55 224.57L122.45 224.57L120.50 221.27Z" fill="#00ffff"/><path d="M122.86 223.68L126.76 223.68L124.81 220.38Z" fill="#00ffff"/><path d="M127.17 222.78L131.07 222.78L129.12 219.48Z" fill="#00ffff"/><path d="M131.49 221.90L135.39 221.90L133.44 218.60Z" fill="#00ffff"/><path d="M135.80 221.02L139.70 221.02L137.75 217.72Z" fill="#00ffff"/><path d="M140.11 220.16L144.01 220.16L142.06 216.86Z" fill="#00ffff"/><path d="M144.43 219.31L148.32 219.31L146.38 216.01Z" fill="#00ffff"/><path d="M148.74 218.48L152.64 218.48L150.69 215.18Z" fill="#00ffff"/><path d="M153.05 217.66L156.95 217.66L155.00 214.36Z" fill="#00ffff"/><path d="M157.36 216.86L161.26 216.86L159.31 213.56Z" fill="#00ffff"/><path d="M161.68 216.06L165.57 216.06L163.62 212.76Z" fill="#00ffff"/><path d="M165.99 215.27L169.89 215.27L167.94 211.97Z" fill="#00ffff"/><path d="M170.30 214.48L174.20 214.48L172.25 211.18Z" fill="#00ffff"/><path d="M174.61 213.71L178.51 213.71L176.56 210.41Z" fill="#00ffff"/><path d="M178.93 212.94L182.82 212.94L180.88 209.64Z" fill="#00ffff"/><path d="M183.24 212.19L187.14 212.19L185.19 208.89Z" fill="#00ffff"/><path d="M187.55 211.46L191.45 211.46L189.50 208.16Z" fill="#00ffff"/><path d="M191.86 210.75L195.76 210.75L193.81 207.45Z" fill="#00ffff"/><path d="M196.18 210.05L200.07 210.05L198.12 206.75Z" fill="#00ffff"/><path d="M200.49 209.38L204.39 209.38L202.44 206.08Z" fill="#00ffff"/><path d="M204.80 208.73L208.70 208.73L206.75 205.43Z" fill="#00ffff"/><path d="M209.11 208.14L213.01 208.14L211.06 204.84Z" fill="#00ffff"/><path d="M213.43 207.60L217.32 207.60L215.38 204.30Z" fill="#00ffff"/><path d="M217.74 207.06L221.64 207.06L219.69 203.76Z" fill="#00ffff"/><path d="M222.05 206.43L225.95 206.43L224.00 203.13Z" fill="#00ffff"/><path d="M226.36 205.65L230.26 205.65L228.31 202.35Z" fill="#00ffff"/><path d="M230.68 204.74L234.57 204.74L232.62 201.44Z" fill="#00ffff"/><path d="M234.99 203.80L238.89 203.80L236.94 200.50Z" fill="#00ffff"/><path d="M239.30 202.92L243.20 202.92L241.25 199.62Z" fill="#00ffff"/><path d="M243.61 202.22L247.51 202.22L245.56 198.92Z" fill="#00ffff"/><path d="M247.93 201.71L251.82 201.71L249.88 198.41Z" fill="#00ffff"/><path d="M252.24 201.29L256.14 201.29L254.19 197.99Z" fill="#00ffff"/><path d="M256.55 200.82L260.45 200.82L258.50 197.52Z" fill="#00ffff"/><path d="M260.86 200.25L264.76 200.25L262.81 196.95Z" fill="#00ffff"/><path d="M265.18 199.62L269.07 199.62L267.12 196.32Z" fill="#00ffff"/><path d="M269.49 198.96L273.39 198.96L271.44 195.66Z" fill="#00ffff"/><path d="M273.80 198.32L277.70 198.32L275.75 195.02Z" fill="#00ffff"/><path d="M278.11 197.71L282.01 197.71L280.06 194.41Z" fill="#00ffff"/><path d="M282.43 197.11L286.32 197.11L284.38 193.81Z" fill="#00ffff"/><path d="M286.74 196.49L290.64 196.49L288.69 193.19Z" fill="#00ffff"/><path d="M291.05 195.82L294.95 195.82L293.00 192.52Z" fill="#00ffff"/><path d="M295.36 195.03L299.26 195.03L297.31 191.73Z" fill="#00ffff"/><path d="M299.68 194.16L303.57 194.16L301.62 190.86Z" fill="#00ffff"/><path d="M303.99 193.32L307.89 193.32L305.94 190.02Z" fill="#00ffff"/><path d="M308.30 192.62L312.20 192.62L310.25 189.32Z" fill="#00ffff"/><path d="M312.61 192.08L316.51 192.08L314.56 188.78Z" fill="#00ffff"/><path d="M316.93 191.62L320.82 191.62L318.88 188.32Z" fill="#00ffff"/><path d="M321.24 191.18L325.14 191.18L323.19 187.88Z" fill="#00ffff"/><path d="M325.55 190.73L329.45 190.73L327.50 187.43Z" fill="#00ffff"/><path d="M329.86 190.22L333.76 190.22L331.81 186.92Z" fill="#00ffff"/><path d="M334.18 189.70L338.07 189.70L336.12 186.40Z" fill="#00ffff"/><path d="M338.49 189.18L342.39 189.18L340.44 185.88Z" fill="#00ffff"/><path d="M342.80 188.72L346.70 188.72L344.75 185.42Z" fill="#00ffff"/><path d="M347.11 188.29L351.01 188.29L349.06 184.99Z" fill="#00ffff"/><path d="M351.43 187.89L355.32 187.89L353.38 184.59Z" fill="#00ffff"/><path d="M355.74 187.52L359.64 187.52L357.69 184.22Z" fill="#00ffff"/><path d="M360.05 187.21L363.95 187.21L362.00 183.91Z" fill="#00ffff"/><path d="M364.36 186.93L368.26 186.93L366.31 183.63Z" fill="#00ffff"/><path d="M368.68 186.67L372.57 186.67L370.62 183.37Z" fill="#00ffff"/><path d="M372.99 186.43L376.89 186.43L374.94 183.13Z" fill="#00ffff"/><path d="M377.30 186.21L381.20 186.21L379.25 182.91Z" fill="#00ffff"/><path d="M381.61 186.01L385.51 186.01L383.56 182.71Z" fill="#00ffff"/><path d="M385.93 185.85L389.82 185.85L387.88 182.55Z" fill="#00ffff"/><path d="M390.24 185.72L394.14 185.72L392.19 182.42Z" fill="#00ffff"/>
<path d="M49.55 237.88L53.45 237.88L51.50 234.58Z" fill="#00c000"/><path d="M53.86 237.13L57.76 237.13L55.81 233.83Z" fill="#00c000"/><path d="M58.17 236.39L62.08 236.39L60.12 233.09Z" fill="#00c000"/><path d="M62.49 235.65L66.39 235.65L64.44 232.35Z" fill="#00c000"/><path d="M66.80 234.90L70.70 234.90L68.75 231.60Z" fill="#00c000"/><path d="M71.11 234.16L75.01 234.16L73.06 230.86Z" fill="#00c000"/><path d="M75.42 233.42L79.33 233.42L77.38 230.12Z" fill="#00c000"/><path d="M79.74 232.68L83.64 232.68L81.69 229.38Z" fill="#00c000"/><path d="M84.05 231.95L87.95 231.95L86.00 228.65Z" fill="#00c000"/><path d="M88.36 231.21L92.26 231.21L90.31 227.91Z" fill="#00c000"/><path d="M92.67 230.47L96.58 230.47L94.62 227.17Z" fill="#00c000"/><path d="M96.99 229.74L100.89 229.74L98.94 226.44Z" fill="#00c000"/><path d="M101.30 229.01L105.20 229.01L103.25 225.71Z" fill="#00c000"/><path d="M105.61 228.20L109.51 228.20L107.56 224.90Z" fill="#00c000"/><path d="M109.92 227.38L113.83 227.38L111.88 224.08Z" fill="#00c000"/><path d="M114.24 226.56L118.14 226.56L116.19 223.26Z" fill="#00c000"/><path d="M118.55 225.74L122.45 225.74L120.50 222.44Z" fill="#00c000"/><path d="M122.86 224.92L126.76 224.92L124.81 221.62Z" fill="#00c000"/><path d="M127.17 224.10L131.07 224.10L129.12 220.80Z" fill="#00c000"/><path d="M131.49 223.29L135.39 223.29L133.44 219.99Z" fill="#00c000"/><path d="M135.80 222.49L139.70 222.49L137.75 219.19Z" fill="#00c000"/><path d="M140.11 221.69L144.01 221.69L142.06 218.39Z" fill="#00c000"/><path d="M144.43 220.92L148.32 220.92L146.38 217.62Z" fill="#00c000"/><path d="M148.74 220.15L152.64 220.15L150.69 216.85Z" fill="#00c000"/><path d="M153.05 219.41L156.95 219.41L155.00 216.11Z" fill="#00c000"/><path d="M157.36 218.67L161.26 218.67L159.31 215.37Z" fill="#00c000"/><path d="M161.68 217.94L165.57 217.94L163.62 214.64Z" fill="#00c000"/><path d="M165.99 217.21L169.89 217.21L167.94 213.91Z" fill="#00c000"/><path d="M170.30 216.48L174.20 216.48L172.25 213.18Z" fill="#00c000"/><path d="M174.61 215.77L178.51 215.77L176.56 212.47Z" fill="#00c000"/><path d="M178.93 215.06L182.82 215.06L180.88 211.76Z" fill="#00c000"/><path d="M183.24 214.37L187.14 214.37L185.19 211.07Z" fill="#00c000"/><path d="M187.55 213.70L191.45 213.70L189.50 210.40Z" fill="#00c000"/><path d="M191.86 213.05L195.76 213.05L193.81 209.75Z" fill="#00c000"/><path d="M196.18 212.42L200.07 212.42L198.12 209.12Z" fill="#00c000"/><path d="M200.49 211.81L204.39 211.81L202.44 208.51Z" fill="#00c000"/><path d="M204.80 211.23L208.70 211.23L206.75 207.93Z" fill="#00c000"/><path d="M209.11 210.71L213.01 210.71L211.06 207.41Z" fill="#00c000"/><path d="M213.43 210.24L217.32 210.24L215.38 206.94Z" fill="#00c000"/><path d="M217.74 209.76L221.64 209.76L219.69 206.46Z" fill="#00c000"/><path d="M222.05 209.23L225.95 209.23L224.00 205.93Z" fill="#00c000"/><path d="M226.36 208.55L230.26 208.55L228.31 205.25Z" fill="#00c000"/><path d="M230.68 207.76L234.57 207.76L232.62 204.46Z" fill="#00c000"/><path d="M234.99 206.94L238.89 206.94L236.94 203.64Z" fill="#00c000"/><path d="M239.30 206.20L243.20 206.20L241.25 202.90Z" fill="#00c000"/><path d="M243.61 205.62L247.51 205.62L245.56 202.32Z" fill="#00c000"/><path d="M247.93 205.23L251.82 205.23L249.88 201.93Z" fill="#00c000"/><path d="M252.24 204.91L256.14 204.91L254.19 201.61Z" fill="#00c000"/><path d="M256.55 204.54L260.45 204.54L258.50 201.24Z" fill="#00c000"/><path d="M260.86 204.05L264.76 204.05L262.81 200.75Z" fill="#00c000"/><path d="M265.18 203.46L269.07 203.46L267.12 200.16Z" fill="#00c000"/><path d="M269.49 202.84L273.39 202.84L271.44 199.54Z" fill="#00c000"/><path d="M273.80 202.22L277.70 202.22L275.75 198.92Z" fill="#00c000"/><path d="M278.11 201.61L282.01 201.61L280.06 198.31Z" fill="#00c000"/><path d="M282.43 200.98L286.32 200.98L284.38 197.68Z" fill="#00c000"/><path d="M286.74 200.35L290.64 200.35L288.69 197.05Z" fill="#00c000"/><path d="M291.05 199.71L294.95 199.71L293.00 196.41Z" fill="#00c000"/><path d="M295.36 199.06L299.26 199.06L297.31 195.76Z" fill="#00c000"/><path d="M299.68 198.38L303.57 198.38L301.62 195.08Z" fill="#00c000"/><path d="M303.99 197.73L307.89 197.73L305.94 194.43Z" fill="#00c000"/><path d="M308.30 197.13L312.20 197.13L310.25 193.83Z" fill="#00c000"/><path d="M312.61 196.57L316.51 196.57L314.56 193.27Z" fill="#00c000"/><path d="M316.93 196.05L320.82 196.05L318.88 192.75Z" fill="#00c000"/><path d="M321.24 195.56L325.14 195.56L323.19 192.26Z" fill="#00c000"/><path d="M325.55 195.12L329.45 195.12L327.50 191.82Z" fill="#00c000"/><path d="M329.86 194.73L333.76 194.73L331.81 191.43Z" fill="#00c000"/><path d="M334.18 194.39L338.07 194.39L336.12 191.09Z" fill="#00c000"/><path d="M338.49 194.06L342.39 194.06L340.44 190.76Z" fill="#00c000"/><path d="M342.80 193.72L346.70 193.72L344.75 190.42Z" fill="#00c000"/><path d="M347.11 193.36L351.01 193.36L349.06 190.06Z" fill="#00c000"/><path d="M351.43 192.98L355.32 192.98L353.38 189.68Z" fill="#00c000"/><path d="M355.74 192.63L359.64 192.63L357.69 189.33Z" fill="#00c000"/><path d="M360.05 192.33L363.95 192.33L362.00 189.03Z" fill="#00c000"/><path d="M364.36 192.06L368.26 192.06L366.31 188.76Z" fill="#00c000"/><path d="M368.68 191.81L372.57 191.81L370.62 188.51Z" fill="#00c000"/><path d="M372.99 191.57L376.89 191.57L374.94 188.27Z" fill="#00c000"/><path d="M377.30 191.35L381.20 191.35L379.25 188.05Z" fill="#00c000"/><path d="M381.61 191.15L385.51 191.15L383.56 187.85Z" fill="#00c000"/><path d="M385.93 190.98L389.82 190.98L387.88 187.68Z" fill="#00c000"/><path d="M390.24 190.84L394.14 190.84L392.19 187.54Z" fill="#00c000"/>
<rect x="49.50" y="234.43" width="4" height="4" fill="#ff0000"/><rect x="53.81" y="233.66" width="4" height="4" fill="#ff0000"/><rect x="58.12" y="232.89" width="4" height="4" fill="#ff0000"/><rect x="62.44" y="232.12" width="4" height="4" fill="#ff0000"/><rect x="66.75" y="231.35" width="4" height="4" fill="#ff0000"/><rect x="71.06" y="230.59" width="4" height="4" fill="#ff0000"/><rect x="75.38" y="229.83" width="4" height="4" fill="#ff0000"/><rect x="79.69" y="229.07" width="4" height="4" fill="#ff0000"/><rect x="84.00" y="228.32" width="4" height="4" fill="#ff0000"/><rect x="88.31" y="227.56" width="4" height="4" fill="#ff0000"/><rect x="92.62" y="226.79" width="4" height="4" fill="#ff0000"/><rect x="96.94" y="226.01" width="4" height="4" fill="#ff0000"/><rect x="101.25" y="225.24" width="4" height="4" fill="#ff0000"/><rect x="105.56" y="224.39" width="4" height="4" fill="#ff0000"/><rect x="109.88" y="223.56" width="4" height="4" fill="#ff0000"/><rect x="114.19" y="222.75" width="4" height="4" fill="#ff0000"/><rect x="118.50" y="221.96" width="4" height="4" fill="#ff0000"/><rect x="122.81" y="221.19" width="4" height="4" fill="#ff0000"/><rect x="127.12" y="220.47" width="4" height="4" fill="#ff0000"/><rect x="131.44" y="219.75" width="4" height="4" fill="#ff0000"/><rect x="135.75" y="219.03" width="4" height="4" fill="#ff0000"/><rect x="140.06" y="218.34" width="4" height="4" fill="#ff0000"/><rect x="144.38" y="217.69" width="4" height="4" fill="#ff0000"/><rect x="148.69" y="217.11" width="4" height="4" fill="#ff0000"/><rect x="153.00" y="216.63" width="4" height="4" fill="#ff0000"/><rect x="157.31" y="216.20" width="4" height="4" fill="#ff0000"/><rect x="161.62" y="215.77" width="4" height="4" fill="#ff0000"/><rect x="165.94" y="215.34" width="4" height="4" fill="#ff0000"/><rect x="170.25" y="214.92" width="4" height="4" fill="#ff0000"/><rect x="174.56" y="214.51" width="4" height="4" fill="#ff0000"/><rect x="178.88" y="214.12" width="4" height="4" fill="#ff0000"/><rect x="183.19" y="213.75" width="4" height="4" fill="#ff0000"/><rect x="187.50" y="213.40" width="4" height="4" fill="#ff0000"/><rect x="191.81" y="213.07" width="4" height="4" fill="#ff0000"/><rect x="196.12" y="212.78" width="4" height="4" fill="#ff0000"/><rect x="200.44" y="212.52" width="4" height="4" fill="#ff0000"/><rect x="204.75" y="212.30" width="4" height="4" fill="#ff0000"/><rect x="209.06" y="212.13" width="4" height="4" fill="#ff0000"/><rect x="213.38" y="211.99" width="4" height="4" fill="#ff0000"/><rect x="217.69" y="211.91" width="4" height="4" fill="#ff0000"/><rect x="222.00" y="211.88" width="4" height="4" fill="#ff0000"/><rect x="226.31" y="211.90" width="4" height="4" fill="#ff0000"/><rect x="230.62" y="211.93" width="4" height="4" fill="#ff0000"/><rect x="234.94" y="211.98" width="4" height="4" fill="#ff0000"/><rect x="239.25" y="212.05" width="4" height="4" fill="#ff0000"/><rect x="243.56" y="212.15" width="4" height="4" fill="#ff0000"/><rect x="247.88" y="212.26" width="4" height="4" fill="#ff0000"/><rect x="252.19" y="212.39" width="4" height="4" fill="#ff0000"/><rect x="256.50" y="212.53" width="4" height="4" fill="#ff0000"/><rect x="260.81" y="212.69" width="4" height="4" fill="#ff0000"/><rect x="265.12" y="212.87" width="4" height="4" fill="#ff0000"/><rect x="269.44" y="213.06" width="4" height="4" fill="#ff0000"/><rect x="273.75" y="213.27" width="4" height="4" fill="#ff0000"/><rect x="278.06" y="213.48" width="4" height="4" fill="#ff0000"/><rect x="282.38" y="213.84" width="4" height="4" fill="#ff0000"/><rect x="286.69" y="214.38" width="4" height="4" fill="#ff0000"/><rect x="291.00" y="214.94" width="4" height="4" fill="#ff0000"/><rect x="295.31" y="215.46" width="4" height="4" fill="#ff0000"/><rect x="299.62" y="215.98" width="4" height="4" fill="#ff0000"/><rect x="303.94" y="216.50" width="4" height="4" fill="#ff0000"/><rect x="308.25" y="217.06" width="4" height="4" fill="#ff0000"/><rect x="312.56" y="217.65" width="4" height="4" fill="#ff0000"/><rect x="316.88" y="218.29" width="4" height="4" fill="#ff0000"/><rect x="321.19" y="219.00" width="4" height="4" fill="#ff0000"/><rect x="325.50" y="219.81" width="4" height="4" fill="#ff0000"/><rect x="329.81" y="220.81" width="4" height="4" fill="#ff0000"/><rect x="334.12" y="221.94" width="4" height="4" fill="#ff0000"/><rect x="338.44" y="223.09" width="4" height="4" fill="#ff0000"/><rect x="342.75" y="224.19" width="4" height="4" fill="#ff0000"/><rect x="347.06" y="225.23" width="4" height="4" fill="#ff0000"/><rect x="351.38" y="226.27" width="4" height="4" fill="#ff0000"/><rect x="355.69" y="227.29" width="4" height="4" fill="#ff0000"/><rect x="360.00" y="228.29" width="4" height="4" fill="#ff0000"/><rect x="364.31" y="229.28" width="4" height="4" fill="#ff0000"/><rect x="368.62" y="230.25" width="4" height="4" fill="#ff0000"/><rect x="372.94" y="231.19" width="4" height="4" fill="#ff0000"/><rect x="377.25" y="232.10" width="4" height="4" fill="#ff0000"/><rect x="381.56" y="232.96" width="4" height="4" fill="#ff0000"/><rect x="385.88" y="233.79" width="4" height="4" fill="#ff0000"/><rect x="390.19" y="234.57" width="4" height="4" fill="#ff0000"/>
<rect x="49.50" y="234.43" width="4" height="4" fill="#0000ff"/><rect x="53.81" y="233.72" width="4" height="4" fill="#0000ff"/><rect x="58.12" y="233.02" width="4" height="4" fill="#0000ff"/><rect x="62.44" y="232.32" width="4" height="4" fill="#0000ff"/><rect x="66.75" y="231.63" width="4" height="4" fill="#0000ff"/><rect x="71.06" y="230.94" width="4" height="4" fill="#0000ff"/><rect x="75.38" y="230.26" width="4" height="4" fill="#0000ff"/><rect x="79.69" y="229.58" width="4" height="4" fill="#0000ff"/><rect x="84.00" y="228.90" width="4" height="4" fill="#0000ff"/><rect x="88.31" y="228.22" width="4" height="4" fill="#0000ff"/><rect x="92.62" y="227.53" width="4" height="4" fill="#0000ff"/><rect x="96.94" y="226.84" width="4" height="4" fill="#0000ff"/><rect x="101.25" y="226.15" width="4" height="4" fill="#0000ff"/><rect x="105.56" y="225.40" width="4" height="4" fill="#0000ff"/><rect x="109.88" y="224.65" width="4" height="4" fill="#0000ff"/><rect x="114.19" y="223.93" width="4" height="4" fill="#0000ff"/><rect x="118.50" y="223.23" width="4" height="4" fill="#0000ff"/><rect x="122.81" y="222.56" width="4" height="4" fill="#0000ff"/><rect x="127.12" y="221.92" width="4" height="4" fill="#0000ff"/><rect x="131.44" y="221.29" width="4" height="4" fill="#0000ff"/><rect x="135.75" y="220.66" width="4" height="4" fill="#0000ff"/><rect x="140.06" y="220.06" width="4" height="4" fill="#0000ff"/><rect x="144.38" y="219.50" width="4" height="4" fill="#0000ff"/><rect x="148.69" y="219.02" width="4" height="4" fill="#0000ff"/><rect x="153.00" y="218.63" width="4" height="4" fill="#0000ff"/><rect x="157.31" y="218.31" width="4" height="4" fill="#0000ff"/><rect x="161.62" y="217.98" width="4" height="4" fill="#0000ff"/><rect x="165.94" y="217.67" width="4" height="4" fill="#0000ff"/><rect x="170.25" y="217.36" width="4" height="4" fill="#0000ff"/><rect x="174.56" y="217.07" width="4" height="4" fill="#0000ff"/><rect x="178.88" y="216.79" width="4" height="4" fill="#0000ff"/><rect x="183.19" y="216.52" width="4" height="4" fill="#0000ff"/><rect x="187.50" y="216.27" width="4" height="4" fill="#0000ff"/><rect x="191.81" y="216.05" width="4" height="4" fill="#0000ff"/><rect x="196.12" y="215.84" width="4" height="4" fill="#0000ff"/><rect x="200.44" y="215.67" width="4" height="4" fill="#0000ff"/><rect x="204.75" y="215.52" width="4" height="4" fill="#0000ff"/><rect x="209.06" y="215.39" width="4" height="4" fill="#0000ff"/><rect x="213.38" y="215.30" width="4" height="4" fill="#0000ff"/><rect x="217.69" y="215.25" width="4" height="4" fill="#0000ff"/><rect x="222.00" y="215.23" width="4" height="4" fill="#0000ff"/><rect x="226.31" y="215.25" width="4" height="4" fill="#0000ff"/><rect x="230.62" y="215.31" width="4" height="4" fill="#0000ff"/><rect x="234.94" y="215.40" width="4" height="4" fill="#0000ff"/><rect x="239.25" y="215.52" width="4" height="4" fill="#0000ff"/><rect x="243.56" y="215.68" width="4" height="4" fill="#0000ff"/><rect x="247.88" y="215.86" width="4" height="4" fill="#0000ff"/><rect x="252.19" y="216.07" width="4" height="4" fill="#0000ff"/><rect x="256.50" y="216.30" width="4" height="4" fill="#0000ff"/><rect x="260.81" y="216.56" width="4" height="4" fill="#0000ff"/><rect x="265.12" y="216.83" width="4" height="4" fill="#0000ff"/><rect x="269.44" y="217.11" width="4" height="4" fill="#0000ff"/><rect x="273.75" y="217.41" width="4" height="4" fill="#0000ff"/><rect x="278.06" y="217.72" width="4" height="4" fill="#0000ff"/><rect x="282.38" y="218.04" width="4" height="4" fill="#0000ff"/><rect x="286.69" y="218.36" width="4" height="4" fill="#0000ff"/><rect x="291.00" y="218.69" width="4" height="4" fill="#0000ff"/><rect x="295.31" y="219.05" width="4" height="4" fill="#0000ff"/><rect x="299.62" y="219.48" width="4" height="4" fill="#0000ff"/><rect x="303.94" y="219.97" width="4" height="4" fill="#0000ff"/><rect x="308.25" y="220.51" width="4" height="4" fill="#0000ff"/><rect x="312.56" y="221.10" width="4" height="4" fill="#0000ff"/><rect x="316.88" y="221.73" width="4" height="4" fill="#0000ff"/><rect x="321.19" y="222.40" width="4" height="4" fill="#0000ff"/><rect x="325.50" y="223.10" width="4" height="4" fill="#0000ff"/><rect x="329.81" y="223.83" width="4" height="4" fill="#0000ff"/><rect x="334.12" y="224.57" width="4" height="4" fill="#0000ff"/><rect x="338.44" y="225.34" width="4" height="4" fill="#0000ff"/><rect x="342.75" y="226.11" width="4" height="4" fill="#0000ff"/><rect x="347.06" y="226.98" width="4" height="4" fill="#0000ff"/><rect x="351.38" y="227.97" width="4" height="4" fill="#0000ff"/><rect x="355.69" y="228.98" width="4" height="4" fill="#0000ff"/><rect x="360.00" y="229.89" width="4" height="4" fill="#0000ff"/><rect x="364.31" y="230.69" width="4" height="4" fill="#0000ff"/><rect x="368.62" y="231.43" width="4" height="4" fill="#0000ff"/><rect x="372.94" y="232.14" width="4" height="4" fill="#0000ff"/><rect x="377.25" y="232.83" width="4" height="4" fill="#0000ff"/><rect x="381.56" y="233.49" width="4" height="4" fill="#0000ff"/><rect x="385.88" y="234.12" width="4" height="4" fill="#0000ff"/><rect x="390.19" y="234.72" width="4" height="4" fill="#0000ff"/>
<rect x="49.50" y="234.43" width="4" height="4" fill="#00ffff"/><rect x="53.81" y="233.75" width="4" height="4" fill="#00ffff"/><rect x="58.12" y="233.08" width="4" height="4" fill="#00ffff"/><rect x="62.44" y="232.41" width="4" height="4" fill="#00ffff"/><rect x="66.75" y="231.75" width="4" height="4" fill="#00ffff"/><rect x="71.06" y="231.10" width="4" height="4" fill="#00ffff"/><rect x="75.38" y="230.46" width="4" height="4" fill="#00ffff"/><rect x="79.69" y="229.82" width="4" height="4" fill="#00ffff"/><rect x="84.00" y="229.19" width="4" height="4" fill="#00ffff"/><rect x="88.31" y="228.56" width="4" height="4" fill="#00ffff"/><rect x="92.62" y="227.92" width="4" height="4" fill="#00ffff"/><rect x="96.94" y="227.27" width="4" height="4" fill="#00ffff"/><rect x="101.25" y="226.63" width="4" height="4" fill="#00ffff"/><rect x="105.56" y="225.93" width="4" height="4" fill="#00ffff"/><rect x="109.88" y="225.25" width="4" height="4" fill="#00ffff"/><rect x="114.19" y="224.58" width="4" height="4" fill="#00ffff"/><rect x="118.50" y="223.95" width="4" height="4" fill="#00ffff"/><rect x="122.81" y="223.35" width="4" height="4" fill="#00ffff"/><rect x="127.12" y="222.79" width="4" height="4" fill="#00ffff"/><rect x="131.44" y="222.26" width="4" height="4" fill="#00ffff"/><rect x="135.75" y="221.73" width="4" height="4" fill="#00ffff"/><rect x="140.06" y="221.23" width="4" height="4" fill="#00ffff"/><rect x="144.38" y="220.77" width="4" height="4" fill="#00ffff"/><rect x="148.69" y="220.37" width="4" height="4" fill="#00ffff"/><rect x="153.00" y="220.06" width="4" height="4" fill="#00ffff"/><rect x="157.31" y="219.79" width="4" height="4" fill="#00ffff"/><rect x="161.62" y="219.52" width="4" height="4" fill="#00ffff"/><rect x="165.94" y="219.26" width="4" height="4" fill="#00ffff"/><rect x="170.25" y="219.01" width="4" height="4" fill="#00ffff"/><rect x="174.56" y="218.77" width="4" height="4" fill="#00ffff"/><rect x="178.88" y="218.54" width="4" height="4" fill="#00ffff"/><rect x="183.19" y="218.32" width="4" height="4" fill="#00ffff"/><rect x="187.50" y="218.12" width="4" height="4" fill="#00ffff"/><rect x="191.81" y="217.94" width="4" height="4" fill="#00ffff"/><rect x="196.12" y="217.77" width="4" height="4" fill="#00ffff"/><rect x="200.44" y="217.62" width="4" height="4" fill="#00ffff"/><rect x="204.75" y="217.50" width="4" height="4" fill="#00ffff"/><rect x="209.06" y="217.40" width="4" height="4" fill="#00ffff"/><rect x="213.38" y="217.33" width="4" height="4" fill="#00ffff"/><rect x="217.69" y="217.28" width="4" height="4" fill="#00ffff"/><rect x="222.00" y="217.27" width="4" height="4" fill="#00ffff"/><rect x="226.31" y="217.28" width="4" height="4" fill="#00ffff"/><rect x="230.62" y="217.33" width="4" height="4" fill="#00ffff"/><rect x="234.94" y="217.42" width="4" height="4" fill="#00ffff"/><rect x="239.25" y="217.53" width="4" height="4" fill="#00ffff"/><rect x="243.56" y="217.67" width="4" height="4" fill="#00ffff"/><rect x="247.88" y="217.83" width="4" height="4" fill="#00ffff"/><rect x="252.19" y="218.01" width="4" height="4" fill="#00ffff"/><rect x="256.50" y="218.22" width="4" height="4" fill="#00ffff"/><rect x="260.81" y="218.45" width="4" height="4" fill="#00ffff"/><rect x="265.12" y="218.69" width="4" height="4" fill="#00ffff"/><rect x="269.44" y="218.95" width="4" height="4" fill="#00ffff"/><rect x="273.75" y="219.22" width="4" height="4" fill="#00ffff"/><rect x="278.06" y="219.50" width="4" height="4" fill="#00ffff"/><rect x="282.38" y="219.78" width="4" height="4" fill="#00ffff"/><rect x="286.69" y="220.08" width="4" height="4" fill="#00ffff"/><rect x="291.00" y="220.38" width="4" height="4" fill="#00ffff"/><rect x="295.31" y="220.71" width="4" height="4" fill="#00ffff"/><rect x="299.62" y="221.12" width="4" height="4" fill="#00ffff"/><rect x="303.94" y="221.59" width="4" height="4" fill="#00ffff"/><rect x="308.25" y="222.11" width="4" height="4" fill="#00ffff"/><rect x="312.56" y="222.68" width="4" height="4" fill="#00ffff"/><rect x="316.88" y="223.30" width="4" height="4" fill="#00ffff"/><rect x="321.19" y="223.95" width="4" height="4" fill="#00ffff"/><rect x="325.50" y="224.63" width="4" height="4" fill="#00ffff"/><rect x="329.81" y="225.33" width="4" height="4" fill="#00ffff"/><rect x="334.12" y="226.05" width="4" height="4" fill="#00ffff"/><rect x="338.44" y="226.77" width="4" height="4" fill="#00ffff"/><rect x="342.75" y="227.50" width="4" height="4" fill="#00ffff"/><rect x="347.06" y="228.33" width="4" height="4" fill="#00ffff"/><rect x="351.38" y="229.27" width="4" height="4" fill="#00ffff"/><rect x="355.69" y="230.20" width="4" height="4" fill="#00ffff"/><rect x="360.00" y="231.00" width="4" height="4" fill="#00ffff"/><rect x="364.31" y="231.64" width="4" height="4" fill="#00ffff"/><rect x="368.62" y="232.21" width="4" height="4" fill="#00ffff"/><rect x="372.94" y="232.75" width="4" height="4" fill="#00ffff"/><rect x="377.25" y="233.26" width="4" height="4" fill="#00ffff"/><rect x="381.56" y="233.77" width="4" height="4" fill="#00ffff"/><rect x="385.88" y="234.26" width="4" height="4" fill="#00ffff"/><rect x="390.19" y="234.72" width="4" height="4" fill="#00ffff"/>
<rect x="49.50" y="234.43" width="4" height="4" fill="#00c000"/><rect x="53.81" y="233.86" width="4" height="4" fill="#00c000"/><rect x="58.12" y="233.28" width="4" height="4" fill="#00c000"/><rect x="62.44" y="232.69" width="4" height="4" fill="#00c000"/><rect x="66.75" y="232.09" width="4" height="4" fill="#00c000"/><rect x="71.06" y="231.48" width="4" height="4" fill="#00c000"/><rect x="75.38" y="230.87" width="4" height="4" fill="#00c000"/><rect x="79.69" y="230.25" width="4" height="4" fill="#00c000"/><rect x="84.00" y="229.63" width="4" height="4" fill="#00c000"/><rect x="88.31" y="228.97" width="4" height="4" fill="#00c000"/><rect x="92.62" y="228.28" width="4" height="4" fill="#00c000"/><rect x="96.94" y="227.59" width="4" height="4" fill="#00c000"/><rect x="101.25" y="226.94" width="4" height="4" fill="#00c000"/><rect x="105.56" y="226.28" width="4" height="4" fill="#00c000"/><rect x="109.88" y="225.70" width="4" height="4" fill="#00c000"/><rect x="114.19" y="225.15" width="4" height="4" fill="#00c000"/><rect x="118.50" y="224.63" width="4" height="4" fill="#00c000"/><rect x="122.81" y="224.14" width="4" height="4" fill="#00c000"/><rect x="127.12" y="223.67" width="4" height="4" fill="#00c000"/><rect x="131.44" y="223.18" width="4" height="4" fill="#00c000"/><rect x="135.75" y="222.69" width="4" height="4" fill="#00c000"/><rect x="140.06" y="222.22" width="4" height="4" fill="#00c000"/><rect x="144.38" y="221.79" width="4" height="4" fill="#00c000"/><rect x="148.69" y="221.42" width="4" height="4" fill="#00c000"/><rect x="153.00" y="221.13" width="4" height="4" fill="#00c000"/><rect x="157.31" y="220.91" width="4" height="4" fill="#00c000"/><rect x="161.62" y="220.69" width="4" height="4" fill="#00c000"/><rect x="165.94" y="220.47" width="4" height="4" fill="#00c000"/><rect x="170.25" y="220.26" width="4" height="4" fill="#00c000"/><rect x="174.56" y="220.07" width="4" height="4" fill="#00c000"/><rect x="178.88" y="219.88" width="4" height="4" fill="#00c000"/><rect x="183.19" y="219.70" width="4" height="4" fill="#00c000"/><rect x="187.50" y="219.54" width="4" height="4" fill="#00c000"/><rect x="191.81" y="219.39" width="4" height="4" fill="#00c000"/><rect x="196.12" y="219.26" width="4" height="4" fill="#00c000"/><rect x="200.44" y="219.15" width="4" height="4" fill="#00c000"/><rect x="204.75" y="219.05" width="4" height="4" fill="#00c000"/><rect x="209.06" y="218.97" width="4" height="4" fill="#00c000"/><rect x="213.38" y="218.91" width="4" height="4" fill="#00c000"/><rect x="217.69" y="218.88" width="4" height="4" fill="#00c000"/><rect x="222.00" y="218.87" width="4" height="4" fill="#00c000"/><rect x="226.31" y="218.88" width="4" height="4" fill="#00c000"/><rect x="230.62" y="218.93" width="4" height="4" fill="#00c000"/><rect x="234.94" y="219.01" width="4" height="4" fill="#00c000"/><rect x="239.25" y="219.12" width="4" height="4" fill="#00c000"/><rect x="243.56" y="219.25" width="4" height="4" fill="#00c000"/><rect x="247.88" y="219.40" width="4" height="4" fill="#00c000"/><rect x="252.19" y="219.58" width="4" height="4" fill="#00c000"/><rect x="256.50" y="219.77" width="4" height="4" fill="#00c000"/><rect x="260.81" y="219.98" width="4" height="4" fill="#00c000"/><rect x="265.12" y="220.20" width="4" height="4" fill="#00c000"/><rect x="269.44" y="220.42" width="4" height="4" fill="#00c000"/><rect x="273.75" y="220.66" width="4" height="4" fill="#00c000"/><rect x="278.06" y="220.90" width="4" height="4" fill="#00c000"/><rect x="282.38" y="221.21" width="4" height="4" fill="#00c000"/><rect x="286.69" y="221.61" width="4" height="4" fill="#00c000"/><rect x="291.00" y="222.04" width="4" height="4" fill="#00c000"/><rect x="295.31" y="222.46" width="4" height="4" fill="#00c000"/><rect x="299.62" y="222.89" width="4" height="4" fill="#00c000"/><rect x="303.94" y="223.34" width="4" height="4" fill="#00c000"/><rect x="308.25" y="223.81" width="4" height="4" fill="#00c000"/><rect x="312.56" y="224.30" width="4" height="4" fill="#00c000"/><rect x="316.88" y="224.81" width="4" height="4" fill="#00c000"/><rect x="321.19" y="225.36" width="4" height="4" fill="#00c000"/><rect x="325.50" y="225.94" width="4" height="4" fill="#00c000"/><rect x="329.81" y="226.59" width="4" height="4" fill="#00c000"/><rect x="334.12" y="227.29" width="4" height="4" fill="#00c000"/><rect x="338.44" y="228.01" width="4" height="4" fill="#00c000"/><rect x="342.75" y="228.76" width="4" height="4" fill="#00c000"/><rect x="347.06" y="229.56" width="4" height="4" fill="#00c000"/><rect x="351.38" y="230.41" width="4" height="4" fill="#00c000"/><rect x="355.69" y="231.24" width="4" height="4" fill="#00c000"/><rect x="360.00" y="231.95" width="4" height="4" fill="#00c000"/><rect x="364.31" y="232.54" width="4" height="4" fill="#00c000"/><rect x="368.62" y="233.05" width="4" height="4" fill="#00c000"/><rect x="372.94" y="233.53" width="4" height="4" fill="#00c000"/><rect x="377.25" y="233.99" width="4" height="4" fill="#00c000"/><rect x="381.56" y="234.43" width="4" height="4" fill="#00c000"/><rect x="385.88" y="234.63" width="4" height="4" fill="#00c000"/><rect x="390.19" y="234.72" width="4" height="4" fill="#00c000"/>
<rect x="51.5" y="4.6" width="345.0" height="232.70000000000002" fill="none" stroke="#000" stroke-width="1"/>
</svg></body></html>
